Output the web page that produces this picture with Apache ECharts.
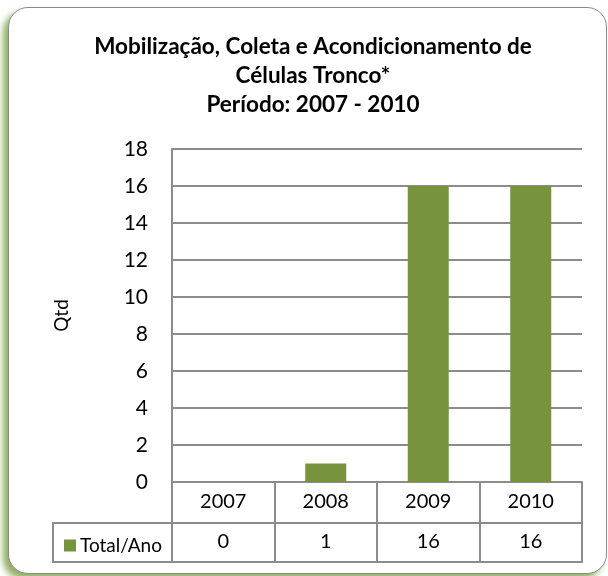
<!DOCTYPE html>
<html>
<head>
<meta charset="utf-8">
<script src="https://cdn.jsdelivr.net/npm/echarts@6/dist/echarts.min.js"></script>
<style>
  html, body { margin: 0; padding: 0; background: #fff; }
  .box {
    position: absolute;
    left: 8px; top: 7px;
    width: 597px; height: 565px;
    border: 1.5px solid #8a8a8a;
    border-radius: 20px;
    box-shadow: -5px 5px 6px rgba(110, 150, 50, 0.75);
    background: #fff;
  }
  #main { position: absolute; left: 0; top: 0; width: 608px; height: 576px; }
</style>
</head>
<body>
<div class="box"></div>
<div id="main"></div>
<script>
var categories = ['2007', '2008', '2009', '2010'];
var values = [0, 1, 16, 16];
var yTicks = [0, 2, 4, 6, 8, 10, 12, 14, 16, 18];
var seriesName = 'Total/Ano';

var font = 'Lato, "Open Sans", sans-serif';
var lineColor = '#8c8c8c';
var barColor = '#77933C';

var gridLeft = 172, gridRight = 582, gridTop = 149, gridBottom = 482;
var rowH = 41, row2H = 39;

var myChart = echarts.init(document.getElementById('main'));

var option = {
  animation: false,
  title: {
    text: 'Mobilização, Coleta e Acondicionamento de\nCélulas Tronco*\nPeríodo: 2007 - 2010',
    left: 308,
    top: 27,
    textAlign: 'center',
    textStyle: {
      fontFamily: font,
      fontWeight: 'bold',
      fontSize: 22.5,
      lineHeight: 29,
      color: '#000'
    }
  },
  legend: {
    data: [seriesName],
    left: 59,
    top: gridBottom + rowH + 8,
    icon: 'rect',
    itemWidth: 12,
    itemHeight: 12,
    itemGap: 4,
    textStyle: { fontFamily: font, fontSize: 19, color: '#000', padding: [0, 0, 0, -1] }
  },
  grid: {
    left: gridLeft,
    right: 608 - gridRight,
    top: gridTop,
    bottom: 576 - gridBottom
  },
  xAxis: [
    {
      type: 'category',
      data: categories,
      position: 'bottom',
      axisLine: { show: true, lineStyle: { color: lineColor, width: 2 } },
      axisTick: { show: true, length: rowH + row2H, lineStyle: { color: lineColor, width: 2 } },
      axisLabel: { margin: 10, fontFamily: font, fontSize: 20, color: '#000' },
      splitLine: { show: false }
    },
    {
      type: 'category',
      data: values.map(String),
      position: 'bottom',
      offset: rowH,
      axisLine: { show: true, lineStyle: { color: lineColor, width: 2 } },
      axisTick: { show: false },
      axisLabel: { margin: 9, fontFamily: font, fontSize: 20, color: '#000' }
    },
    {
      type: 'category',
      data: categories,
      position: 'bottom',
      offset: rowH + row2H,
      axisLine: { show: true, lineStyle: { color: lineColor, width: 2 } },
      axisTick: { show: false },
      axisLabel: { show: false }
    }
  ],
  yAxis: {
    type: 'value',
    min: yTicks[0],
    max: yTicks[yTicks.length - 1],
    interval: 2,
    name: 'Qtd',
    nameLocation: 'middle',
    nameGap: 101,
    nameTextStyle: { fontFamily: font, fontSize: 19, color: '#000' },
    axisLine: { show: true, lineStyle: { color: lineColor, width: 2 } },
    axisTick: { show: false },
    axisLabel: { margin: 24, fontFamily: font, fontSize: 21, color: '#000' },
    splitLine: { show: true, lineStyle: { color: lineColor, width: 2 } }
  },
  graphic: [
    {
      type: 'rect',
      shape: { x: 53, y: gridBottom + rowH, width: gridLeft - 53, height: row2H },
      style: { fill: 'none', stroke: lineColor, lineWidth: 2 }
    }
  ],
  series: [
    {
      name: seriesName,
      type: 'bar',
      data: values,
      barWidth: '40%',
      itemStyle: { color: barColor }
    }
  ]
};

myChart.setOption(option);
</script>
</body>
</html>
